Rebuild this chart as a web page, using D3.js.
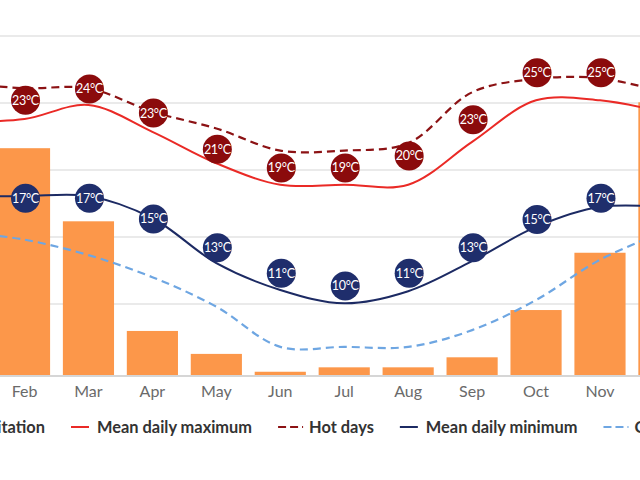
<!DOCTYPE html>
<html>
<head>
<meta charset="utf-8">
<script src="https://cdn.jsdelivr.net/npm/d3@7"></script>
<style>
  html, body { margin: 0; padding: 0; background: #fff; }
  svg { display: block; font-family: Lato, "Open Sans", sans-serif; }
</style>
</head>
<body>
<div id="chart"></div>
<script>
// monthly climate data (the picture only shows Feb..Nov, Jan and Dec are cut off)
const months = ["Jan", "Feb", "Mar", "Apr", "May", "Jun", "Jul", "Aug", "Sep", "Oct", "Nov", "Dec"];
const precipitation = [150, 134, 91, 26.5, 13, 2.5, 5.1, 5.1, 11, 38.8, 72.5, 161];
const meanMax = [23.6, 23.8, 24.85, 22.85, 20.5, 18.9, 18.9, 18.9, 22.1, 25.2, 25.2, 24.3];
const hotDays = [26.5, 26.1, 26.1, 24.35, 23.1, 21.45, 21.45, 22.0, 25.8, 26.8, 26.85, 25.8];
const meanMin = [18.05, 18.05, 18.05, 16.4, 13.05, 11.05, 10.05, 10.95, 13.2, 15.75, 17.25, 17.25];
const coldNights = [15.4, 14.8, 13.65, 12.0, 9.8, 6.8, 6.8, 6.8, 8.05, 10.3, 13.3, 15.4];

// numbers in the circles, and the temperature level each circle sits at
const maxLabels = [24, 23, 24, 23, 21, 19, 19, 20, 23, 25, 25, 24];
const maxLabelAt = [25.5, 25.2, 26.05, 24.25, 21.55, 20.15, 20.15, 21.05, 23.75, 27.25, 27.25, 26.5];
const minLabels = [17, 17, 17, 15, 13, 11, 10, 11, 13, 15, 17, 17];
const minLabelAt = [17.9, 17.9, 17.9, 16.35, 14.2, 12.3, 11.35, 12.3, 14.2, 16.3, 17.9, 17.9];

const tempTicks = [10, 15, 20, 25, 30];
const legendLabels = ["Precipitation", "Mean daily maximum", "Hot days", "Mean daily minimum", "Cold nights"];

const W = 640, H = 480;
const colors = {
    bar: "#fc974a",
    max: "#ea2a26",
    hot: "#8c1214",
    min: "#1c2a63",
    cold: "#6ea6e2",
    maxDot: "#8b0b0c",
    minDot: "#1f2e6c"
};

const svg = d3.select("#chart")
    .append("svg")
    .attr("width", W)
    .attr("height", H);

// the original chart is wider than the window, so the band range runs past both edges
const x = d3.scaleBand()
    .domain(months)
    .range([-71.4, 695.9])
    .paddingInner(0.2)
    .paddingOuter(0.1);

const yTemp = d3.scaleLinear().domain([10, 30]).range([304, 36]);
const yRain = d3.scaleLinear().domain([0, 200]).range([376, 36]);

const cx = m => x(m) + x.bandwidth() / 2;

// gridlines
svg.append("g")
    .attr("class", "grid")
    .selectAll("line")
    .data(tempTicks)
    .join("line")
    .attr("x1", 0)
    .attr("x2", W)
    .attr("y1", d => yTemp(d))
    .attr("y2", d => yTemp(d))
    .attr("stroke", "#e3e3e3")
    .attr("stroke-width", 1.5);

// precipitation bars
svg.append("g")
    .selectAll("rect")
    .data(months)
    .join("rect")
    .attr("x", d => x(d))
    .attr("width", x.bandwidth())
    .attr("y", (d, i) => yRain(precipitation[i]))
    .attr("height", (d, i) => yRain(0) - yRain(precipitation[i]))
    .attr("fill", colors.bar);

// bottom axis with month names
const xAxis = svg.append("g")
    .attr("transform", `translate(0, ${yRain(0)})`)
    .call(d3.axisBottom(x).tickSize(0).tickPadding(10));
xAxis.select(".domain")
    .attr("stroke", "#d6d6d6")
    .attr("stroke-width", 2)
    .attr("d", `M0,0H${W}`);
xAxis.selectAll("text")
    .attr("font-family", "Lato, sans-serif")
    .attr("font-size", "16px")
    .attr("fill", "#6a6a6a");

// temperature lines
function drawLine(values, color, dash, width) {
    svg.append("path")
        .datum(values)
        .attr("fill", "none")
        .attr("stroke", color)
        .attr("stroke-width", width)
        .attr("stroke-dasharray", dash)
        .attr("d", d3.line()
            .curve(d3.curveCatmullRom)
            .x((d, i) => cx(months[i]))
            .y(d => yTemp(d)));
}

drawLine(coldNights, colors.cold, "8,5", 2.2);
drawLine(meanMin, colors.min, null, 2);
drawLine(hotDays, colors.hot, "8,5", 2.2);
drawLine(meanMax, colors.max, null, 2);

// value circles
function drawBadges(labels, levels, color) {
    const g = svg.append("g")
        .selectAll("g")
        .data(months)
        .join("g")
        .attr("transform", (d, i) => `translate(${cx(d) + 1}, ${yTemp(levels[i])})`);
    g.append("circle")
        .attr("r", 14.5)
        .attr("fill", color);
    g.append("text")
        .attr("text-anchor", "middle")
        .attr("dy", "0.36em")
        .attr("font-size", "12.5px")
        .attr("letter-spacing", "-0.3px")
        .attr("fill", "#fff")
        .text((d, i) => labels[i] + "°C");
}

drawBadges(maxLabels, maxLabelAt, colors.maxDot);
drawBadges(minLabels, minLabelAt, colors.minDot);

// legend
const legendItems = [
    {label: legendLabels[0], color: colors.bar, type: "box"},
    {label: legendLabels[1], color: colors.max, type: "line"},
    {label: legendLabels[2], color: colors.hot, type: "dash"},
    {label: legendLabels[3], color: colors.min, type: "line"},
    {label: legendLabels[4], color: colors.cold, type: "dash"}
];

const legend = svg.append("g").attr("transform", "translate(0, 427)");
let pos = 0;
const starts = [];
legendItems.forEach(item => {
    const g = legend.append("g");
    const sw = item.type === "line" ? 18 : (item.type === "dash" ? 25 : 14);
    if (item.type === "box") {
        g.append("rect").attr("x", 0).attr("y", -7).attr("width", 14).attr("height", 14)
            .attr("rx", 2).attr("fill", item.color);
    } else {
        g.append("line").attr("x1", 0).attr("x2", sw).attr("y1", 0).attr("y2", 0)
            .attr("stroke", item.color).attr("stroke-width", 2)
            .attr("stroke-dasharray", item.type === "dash" ? "8,4" : null);
    }
    const t = g.append("text")
        .attr("x", sw + (item.type === "dash" ? 6 : 8))
        .attr("dy", "0.35em")
        .attr("font-size", "16.4px")
        .attr("font-weight", "bold")
        .attr("fill", "#333")
        .text(item.label);
    starts.push(pos);
    item.g = g;
    pos += sw + (item.type === "dash" ? 6 : 8) + t.node().getComputedTextLength() + 26;
});
// place the row so the "Mean daily maximum" key lands where it does in the picture
const shift = 71 - starts[1];
legendItems.forEach((item, i) => item.g.attr("transform", `translate(${starts[i] + shift}, 0)`));
</script>
</body>
</html>
